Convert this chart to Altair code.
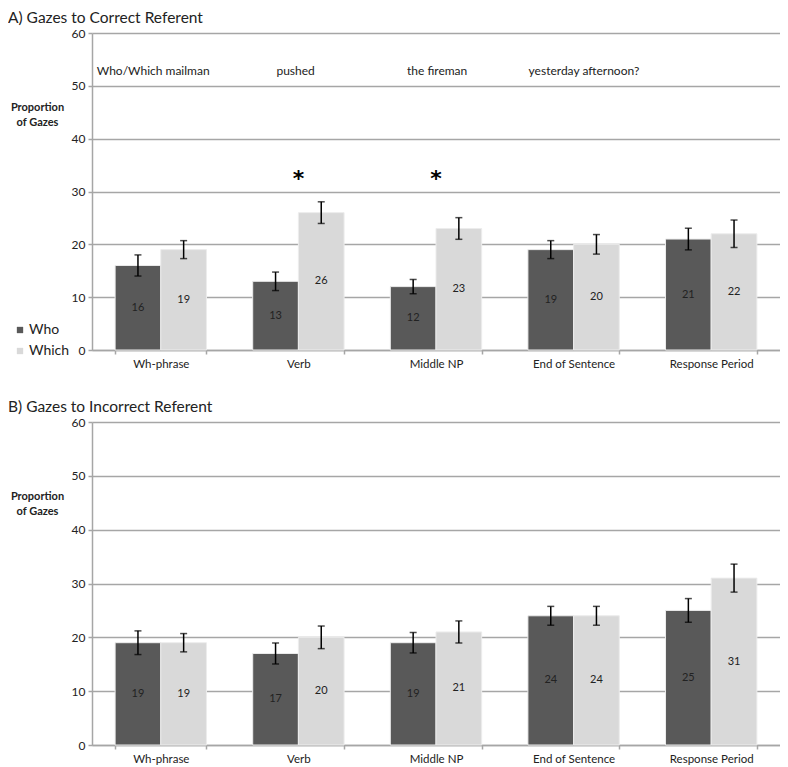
import altair as alt
import pandas as pd

categories = ["Wh-phrase", "Verb", "Middle NP", "End of Sentence", "Response Period"]
groups = ["Who", "Which"]

a_who = [16, 13, 12, 19, 21]
a_which = [19, 26, 23, 20, 22]
a_who_err = [2.0, 1.75, 1.35, 1.7, 2.05]
a_which_err = [1.7, 2.05, 2.05, 1.85, 2.6]

b_who = [19, 17, 19, 24, 25]
b_which = [19, 20, 21, 24, 31]
b_who_err = [2.2, 1.95, 1.9, 1.75, 2.2]
b_which_err = [1.7, 2.1, 2.05, 1.75, 2.6]

phrases = ["Who/Which mailman", "pushed", "the fireman", "yesterday afternoon?"]
phrase_cats = ["Wh-phrase", "Verb", "Middle NP", "End of Sentence"]
phrase_level = 52.8
star_cats = ["Verb", "Middle NP"]
star_level = 33.4

FONT = "Lato"
WHO_COLOR = "#595959"
WHICH_COLOR = "#d9d9d9"
W = 688


def make_df(who, which, who_err, which_err):
    rows = []
    for i, c in enumerate(categories):
        rows.append({"cat": c, "grp": "Who", "val": who[i], "err": who_err[i]})
        rows.append({"cat": c, "grp": "Which", "val": which[i], "err": which_err[i]})
    return pd.DataFrame(rows)


def panel(df, title, height, legend, extra_layers):
    base = alt.Chart(df).transform_calculate(
        lo="datum.val - datum.err", hi="datum.val + datum.err", mid="datum.val / 2"
    )
    x = alt.X(
        "cat:N",
        sort=categories,
        scale=alt.Scale(paddingInner=0.336, paddingOuter=0.168),
        axis=alt.Axis(
            title=None, labelAngle=0, tickBand="extent", tickSize=4,
            labelPadding=4, labelFontSize=11.5, labelFont=FONT, labelColor="#222",
            domainColor="#a6a6a6", domainWidth=1.5, tickColor="#a6a6a6", tickWidth=1.5,
            grid=False,
        ),
    )
    xo = alt.XOffset("grp:N", sort=groups, scale=alt.Scale(paddingInner=0, paddingOuter=0))
    y_axis = alt.Axis(
        values=[0, 10, 20, 30, 40, 50, 60],
        title=["Proportion", "of Gazes"],
        titleAngle=0, titleAlign="center", titleBaseline="top",
        titleX=-55, titleY=68, titleLineHeight=15,
        titleFont=FONT, titleFontSize=11, titleFontWeight="bold", titleColor="#222",
        labelFont=FONT, labelFontSize=12, labelColor="#222", labelPadding=3,
        tickSize=4, tickColor="#a6a6a6", tickWidth=1.5,
        domainColor="#a6a6a6", domainWidth=1.5,
        grid=True, gridColor="#a6a6a6", gridWidth=1.5,
    )
    y = alt.Y("val:Q", scale=alt.Scale(domain=[0, 60], nice=False), axis=y_axis)

    color = alt.Color(
        "grp:N",
        sort=groups,
        scale=alt.Scale(domain=groups, range=[WHO_COLOR, WHICH_COLOR]),
        legend=legend,
    )
    bars = base.mark_bar(stroke="#ececec", strokeWidth=1).encode(x=x, xOffset=xo, y=y, color=color)
    rule = base.mark_rule(color="black", strokeWidth=1.5).encode(
        x=x, xOffset=xo, y="lo:Q", y2="hi:Q"
    )
    cap_lo = base.mark_tick(color="black", thickness=1.5, size=7).encode(x=x, xOffset=xo, y="lo:Q")
    cap_hi = base.mark_tick(color="black", thickness=1.5, size=7).encode(x=x, xOffset=xo, y="hi:Q")
    labels = base.mark_text(font=FONT, fontSize=11, color="#222").encode(
        x=x, xOffset=xo, y="mid:Q", text="val:Q"
    )
    layers = [bars, rule, cap_lo, cap_hi, labels] + extra_layers(x)
    return alt.layer(*layers).properties(
        width=W,
        height=height,
        title=alt.TitleParams(
            title, anchor="start", frame="group", dx=-84, fontSize=15.5,
            font=FONT, fontWeight="normal", color="#222", offset=1,
        ),
    )


phrase_dx = [-64, -22, -29, -45]


def extras_a(x):
    out = []
    for p, c, dx in zip(phrases, phrase_cats, phrase_dx):
        d = pd.DataFrame({"cat": [c], "txt": [p], "v": [phrase_level]})
        out.append(
            alt.Chart(d).mark_text(align="left", baseline="middle", font=FONT, fontSize=12, color="#222", dx=dx)
            .encode(x=alt.X("cat:N", sort=categories), y=alt.Y("v:Q"), text="txt:N")
        )
    sd = pd.DataFrame({"cat": star_cats, "v": [star_level] * len(star_cats), "txt": ["*"] * len(star_cats)})
    out.append(
        alt.Chart(sd).mark_text(baseline="middle", font="DejaVu Sans", fontSize=22, fontWeight="bold", color="black", dy=5)
        .encode(x=alt.X("cat:N", sort=categories), y=alt.Y("v:Q"), text="txt:N")
    )
    return out


legend_a = alt.Legend(
    orient="none", legendX=-79, legendY=290, title=None,
    symbolType="square", symbolSize=40, symbolStrokeWidth=0,
    labelFont=FONT, labelFontSize=14, labelColor="#222", rowPadding=7, labelOffset=2, padding=0,
)

chart_a = panel(make_df(a_who, a_which, a_who_err, a_which_err),
                "A) Gazes to Correct Referent", 317, legend_a, extras_a)
chart_b = panel(make_df(b_who, b_which, b_who_err, b_which_err),
                "B) Gazes to Incorrect Referent", 323, None, lambda x: [])

chart = alt.vconcat(chart_a, chart_b, spacing=29).resolve_legend(color="independent").configure_view(
    stroke=None
).properties(padding={"top": 2, "left": 0, "right": 0, "bottom": 0})

chart.save("out.html", embed_options={"renderer": "svg", "actions": False})
